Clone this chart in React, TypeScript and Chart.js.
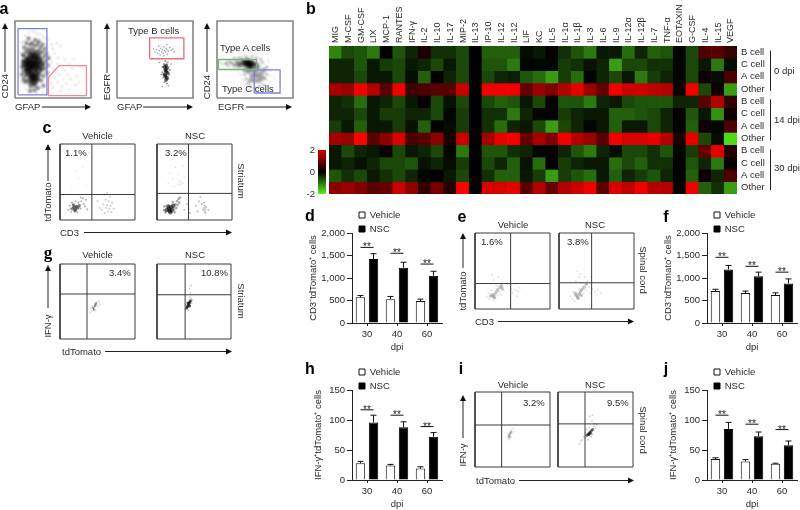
import React, { useEffect, useRef } from "react";
import { Chart, registerables } from "chart.js";

Chart.register(...registerables);
Chart.defaults.font.family = "'Liberation Sans', Arial, sans-serif";
Chart.defaults.color = "#2a2a2a";

// ---------- heat map ----------
const cytokines = ["MIG","M-CSF","GM-CSF","LIX","MCP-1","RANTES","IFN-γ","IL-2","IL-10","IL-17","MIP-2","IL-13","IP-10","IL-12","IL-12","LIF","KC","IL-5","IL-1α","IL-1β","IL-3","IL-6","IL-9","IL-12α","IL-12β","IL-7","TNF-α","EOTAXIN","G-CSF","IL-4","IL-15","VEGF"];
const rowLabels = ["B cell","C cell","A cell","Other","B cell","C cell","A cell","Other","B cell","C cell","A cell","Other"];
const row0B = [-1.1,-.6,-.7,-1,0,-.7,-.3,.2,-.4,-.4,-.6,0,-.8,-.8,-.8,-.1,-.2,.05,-.4,-.7,-1,-.2,-.2,-.9,-.3,-.8,-.7,-.05,-.6,.6,.7,.4];
const row0C = [-.3,-.3,-.7,-.2,-.5,-.6,-.2,-.3,-.6,-.2,-.6,0,-.7,-.7,-1,-.05,-.05,-.05,-.5,-.4,-.15,-.3,-1.3,-.6,-.6,-.4,-.4,-.05,-.6,-.2,-1,-.1];
const row0A = [-.3,-.3,-.6,-.2,-.2,-.6,-.1,-.8,0,-.3,-.6,0,-.6,-.3,-.25,-.7,-.9,-1.3,-.5,-.9,-.05,-.3,-.6,-.2,-1,-.5,-.3,-.05,-.6,.1,-.1,.6];
const row0O = [1.3,1.2,1.9,1.4,.7,1.9,.5,.6,.7,.7,1.6,0,1.9,1.9,1.9,.8,1.2,1,1.4,1.8,1.2,.8,1.9,1.6,1.6,1.5,1.4,.1,1.9,-.6,.1,-1.3];
const row14B = [-.3,-.4,-.9,-.2,-.3,-.6,-.2,.05,-.6,-.15,-.6,0,-.6,-.8,-.7,-.2,-.6,.05,-.7,-.7,-1,-.3,-.2,-.6,-.7,-.7,-.7,-.3,-.3,.7,1.4,.4];
const row14C = [-.3,-.3,-.6,-.2,-.5,-.5,-.3,-.3,-.6,-.05,-.5,0,-.4,-.4,-1,-.3,-.05,0,-.5,-.3,-.2,-.2,-.8,-.8,-.7,-.6,-.3,.05,-.7,-.2,-1.2,.1];
const row14A = [-.5,-.2,-.8,-.2,-.2,-.5,-.15,-.8,0,-.1,-.5,0,-.4,-.9,-.3,-.2,-.6,-1.3,-.6,-.3,-.05,-.2,-.8,-.2,-.2,-.6,-.3,0,-.8,.1,-.05,.6];
const row14O = [1.3,1.2,2,.7,1.1,1.7,.6,.7,1.1,.2,1.6,0,1.3,1.8,1.9,.8,1.3,1,1.9,1.4,1.2,.7,1.9,1.7,1.7,1.8,1.4,.2,1.8,-.6,-.1,-1.8];
const row30B = [-.2,-.6,-.3,-.2,.1,-.6,-.2,-.3,-.6,-.05,-1,0,-.7,-.7,-.4,-.3,-.05,.05,-.3,-.7,-1,-.3,-.1,-.6,-.6,-.4,-.7,-.05,-.5,.8,1.8,.3];
const row30C = [-.2,-.3,-.15,-.3,-.6,-.6,-.7,-.15,-.3,-.1,-.5,0,-.6,-.3,-.8,-.15,-.9,0,-.5,-.3,-.2,-.2,-.9,-.6,-.8,-.4,-.4,0,-.7,-.3,-1,.05];
const row30A = [-.7,-.4,-.6,-.2,-.4,-.6,-.3,-.05,0,-.2,-.6,0,-.4,-.8,-.8,-.2,-.5,-1.3,-.5,-.7,-.9,-.2,-.8,-.3,-.5,-.7,-.3,0,-.8,.1,-.3,.6];
const row30O = [1.1,1.2,1,.7,.8,1.6,1.1,.4,.9,.3,2,0,1.7,1.7,1.8,.7,1.4,.8,1.4,1.6,1.9,.7,1.7,1.5,1.9,1.4,1.4,.05,1.9,-.8,-.4,-1.3];
const heatRows = [row0B,row0C,row0A,row0O,row14B,row14C,row14A,row14O,row30B,row30C,row30A,row30O];
const scaleTicks = [-2, 0, 2];

// ---------- bar panels ----------
const dpi = ["30","40","60"];
const dVehicle = [570,530,490], dVehicleTop = [610,590,530], dNsc = [1420,1230,1050], dNscTop = [1540,1350,1150], dSig = [1680,1550,1310];
const fVehicle = [710,665,620], fVehicleTop = [750,710,670], fNsc = [1190,1040,880], fNscTop = [1280,1130,980], fSig = [1460,1260,1130];
const hVehicle = [28,24,19], hVehicleTop = [31,26,22], hNsc = [96,88,72], hNscTop = [108,97,79], hSig = [117,108,89];
const jVehicle = [35,31,27], jVehicleTop = [37,34,28], jNsc = [85,73,58], jNscTop = [96,80,65], jSig = [108,93,84];

// ---------- flow cytometry dots, read by eye, in percent of each frame ----------
const a1Dense = [[12,44],[15,40],[18,46],[20,42],[23,45],[26,40],[14,48],[17,37],[22,38],[25,48],[28,44],[19,50],[16,33],[20,30],[23,27],[26,31],[21,24],[24,21],[27,26],[30,36],[33,42],[24,55],[20,56],[28,54],[31,50]];
const a1Mid = [[8,40],[9,48],[10,35],[11,55],[13,28],[13,60],[15,22],[15,52],[16,64],[18,18],[18,60],[19,70],[20,14],[21,64],[22,72],[23,17],[24,62],[25,68],[26,15],[26,76],[27,60],[28,20],[29,70],[30,24],[30,62],[31,74],[32,30],[32,58],[33,66],[34,22],[34,48],[35,36],[35,60],[36,70],[37,44],[37,28],[38,54],[39,38],[39,64],[40,48],[41,58],[42,32],[43,42],[44,52],[12,20],[10,24],[9,56],[11,66],[14,72],[17,78],[8,30],[30,12],[25,9],[19,8],[37,15]];
const a1Sparse = [[6,60],[7,20],[7,72],[12,82],[18,86],[28,84],[36,80],[44,76],[48,70],[50,64],[52,58],[55,72],[57,52],[60,68],[48,46],[50,38],[46,26],[48,18],[50,12],[52,26],[54,34],[56,20],[58,30],[60,42],[62,14],[64,24],[66,36],[68,18],[70,30],[72,10],[74,24],[76,38],[80,16],[82,28],[86,20],[60,8],[44,8],[36,6],[28,5],[14,10],[66,50],[72,44],[56,44],[42,68],[40,78],[33,84],[24,88],[10,74],[78,50],[88,40]];
const a2Dense = [[63,30],[65,34],[66,38],[64,28],[66,26],[64,36],[63,40],[65,42],[67,32],[65,23]];
const a2Mid = [[60,33],[61,26],[62,44],[60,40],[68,40],[69,30],[68,24],[70,36],[63,20],[66,18],[64,48],[67,46],[59,30]];
const a2Sparse = [[50,60],[52,63],[54,58],[56,62],[58,65],[59,60],[60,63],[62,67],[61,58],[63,62],[64,60],[65,65],[66,63],[68,61],[70,66],[72,62],[74,64],[76,60],[57,56],[62,55],[67,57],[66,70],[55,68],[48,64],[60,14],[68,15],[72,44],[56,46]];
const a3Dense = [[36,46],[38,43],[40,45],[42,44],[44,46],[46,43],[40,48],[43,41]];
const a3Wide = [[28,46],[32,44],[34,48],[48,46],[50,42],[52,44],[26,43],[30,42],[44,38],[48,36],[52,36],[54,40],[50,30],[54,28],[58,32],[46,28],[50,22],[56,22],[60,26],[42,34],[38,36],[44,22],[62,36]];
const a3Mid = [[10,44],[14,42],[18,46],[20,44],[22,42],[24,48],[16,47],[12,46],[36,30],[38,24],[40,18],[34,36],[44,14],[50,12],[56,14],[62,16],[64,24],[66,30],[66,40],[60,46],[58,50],[32,52],[38,54],[46,54],[52,52],[28,52],[22,52]];
const a3Sparse = [[6,44],[4,46],[30,30],[26,36],[34,22],[42,8],[52,8],[60,8],[70,20],[70,36],[72,28],[68,48],[30,60],[44,60],[50,58],[40,62],[76,24],[20,38]];
const c1Dense = [[16,14],[18,16],[20,13],[21,17],[19,11],[23,15],[17,19],[25,18]];
const c1Mid = [[10,12],[12,18],[14,10],[15,22],[22,9],[24,22],[27,14],[28,24],[30,28],[27,29],[31,20],[33,17],[13,14],[36,13],[34,26],[20,24]];
const c1Right = [[50,24],[53,15],[56,12],[58,20],[60,8],[61,26],[62,15],[63,19],[64,10],[65,24],[66,14],[67,30],[68,18],[69,9],[70,22],[72,14],[59,33],[63,35]];
const c1Sparse = [[15,40],[25,55],[30,70],[20,65],[35,45],[12,80],[38,90],[42,35]];
const c2Dense = [[12,12],[15,14],[16,11],[18,16],[14,17],[19,12],[21,18],[17,9]];
const c2Mid = [[8,12],[9,17],[10,9],[22,13],[24,20],[26,24],[28,27],[25,15],[29,22],[23,9],[30,29],[27,19],[20,23]];
const c2Right = [[62,12],[63,15],[64,10],[64,18],[65,13],[63,22],[65,8],[66,16],[56,24],[52,18],[54,10],[58,30],[60,20],[42,14],[44,8],[40,20],[36,12],[69,12]];
const c2Upper = [[30,49],[31,46],[29,52],[32,50],[27,47],[34,48],[28,60],[24,70],[18,80],[16,62],[26,84],[34,72],[20,54],[36,56],[22,44],[14,48]];
const g1Dense = [[44,41],[46,43],[47,45],[45,39],[48,47]];
const g1Mid = [[42,37],[43,44],[49,49],[50,44],[47,38],[41,41],[52,50],[46,48],[40,35],[53,46]];
const g2Dense = [[41,43],[42,45],[43,47],[44,49],[45,51],[42,48],[44,44],[40,41]];
const g2Mid = [[38,40],[46,54],[47,48],[40,48],[44,56],[45,62],[44,68],[46,72],[42,38],[39,46],[48,52]];
const e1Dense = [[22,18],[24,16],[26,19],[25,14],[28,22],[20,16],[30,25],[33,28],[35,30],[36,26]];
const e1Mid = [[15,15],[17,20],[18,12],[21,24],[24,10],[27,13],[30,17],[32,22],[38,24],[28,30],[36,33],[34,18],[50,20],[54,24],[58,22],[56,16],[60,27],[48,26],[24,38],[22,45],[30,42]];
const e2Dense = [[22,17],[24,15],[26,19],[25,13],[28,22],[21,20],[30,25],[33,28],[36,32],[29,17]];
const e2Mid = [[14,16],[17,12],[18,22],[20,9],[26,26],[32,20],[35,24],[38,36],[40,28],[30,34],[42,20],[44,26],[48,22],[52,24],[50,18],[56,20],[26,42],[24,50],[28,46],[34,42],[22,36]];
const i1Dense = [[45,41],[46,43],[47,45],[48,47],[46,39]];
const i1Mid = [[43,38],[44,44],[49,50],[50,46],[51,52],[48,40],[45,36],[52,48]];
const i2Dense = [[38,42],[40,44],[42,46],[44,48],[41,43],[43,45],[46,50]];
const i2Mid = [[32,36],[34,40],[36,38],[36,46],[38,50],[48,54],[50,52],[46,44],[42,52],[44,40],[48,58],[30,34],[52,56],[45,62],[42,68],[28,30],[40,36],[46,70]];

// gates in percent of the frame
const gateA1Blue = [[4,4],[42,4],[42,90],[4,90],[4,4]];
const gateA1Red = [[44,3],[94,3],[94,42],[58,42],[44,27],[44,3]];
const gateA2Red = [[43,51],[88,51],[88,78],[43,78],[43,51]];
const gateA3Green = [[2,37],[52,37],[52,50],[2,50],[2,37]];
const gateA3Blue = [[49,6.5],[83,6.5],[83,36.5],[49,36.5],[49,6.5]];

// ---------- helpers ----------
const heatColor = (v: number) => {
  const t = Math.min(1, Math.abs(v) / 2);
  return v >= 0
    ? `rgb(${Math.round(255 * t)},0,0)`
    : `rgb(${Math.round(90 * t)},${Math.round(240 * t)},${Math.round(30 * t)})`;
};
const toXY = (p: number[][]) => p.map(([x, y]) => ({ x, y }));

type Layer = { pts: number[][]; r: number; a: number };
type Gate = { pts: number[][]; color: string };
type Flow = { l: number; t: number; w: number; h: number; layers: Layer[]; q?: number[]; gates?: Gate[]; frame: string; lw: number; blur: number };

const ink = "#3a3a3a", gray = "#858585";
const flows: Flow[] = [
  { l:15,t:21,w:76,h:77,frame:gray,lw:1.6,blur:.8,gates:[{pts:gateA1Blue,color:"#7f7fe0"},{pts:gateA1Red,color:"#ee8a90"}],
    layers:[{pts:a1Dense,r:3.6,a:.65},{pts:a1Mid,r:2,a:.5},{pts:a1Sparse,r:.8,a:.4}] },
  { l:117,t:21,w:76,h:77,frame:gray,lw:1.6,blur:.7,gates:[{pts:gateA2Red,color:"#ee6a74"}],
    layers:[{pts:a2Dense,r:1.9,a:.65},{pts:a2Mid,r:1.1,a:.4},{pts:a2Sparse,r:.8,a:.4}] },
  { l:217,t:21,w:76,h:77,frame:gray,lw:1.6,blur:.8,gates:[{pts:gateA3Green,color:"#7fae7f"},{pts:gateA3Blue,color:"#7f7fe0"}],
    layers:[{pts:a3Dense,r:2.8,a:.7},{pts:a3Wide,r:2.6,a:.33},{pts:a3Mid,r:1.3,a:.4},{pts:a3Sparse,r:.8,a:.35}] },
  { l:60,t:144,w:75,h:76,frame:ink,lw:1,blur:.55,q:[42.5,33.5],layers:[{pts:c1Dense,r:1.7,a:.5},{pts:c1Mid,r:1.1,a:.28},{pts:c1Right,r:1,a:.2},{pts:c1Sparse,r:.6,a:.14}] },
  { l:157,t:144,w:75,h:76,frame:ink,lw:1,blur:.55,q:[42,35],layers:[{pts:c2Dense,r:2.2,a:.6},{pts:c2Mid,r:1.3,a:.33},{pts:c2Right,r:1,a:.25},{pts:c2Upper,r:.7,a:.16}] },
  { l:60,t:264,w:75,h:75,frame:ink,lw:1,blur:.55,q:[36,60],layers:[{pts:g1Dense,r:1.1,a:.45},{pts:g1Mid,r:1,a:.15}] },
  { l:157,t:264,w:74,h:75,frame:ink,lw:1,blur:.55,q:[38,59],layers:[{pts:g2Dense,r:1.5,a:.65},{pts:g2Mid,r:.9,a:.2}] },
  { l:475,t:233,w:75,h:76,frame:ink,lw:1,blur:.55,q:[47.5,33.5],layers:[{pts:e1Dense,r:1.7,a:.22},{pts:e1Mid,r:1,a:.12}] },
  { l:559,t:233,w:75,h:76,frame:ink,lw:1,blur:.55,q:[43.5,34.5],layers:[{pts:e2Dense,r:1.7,a:.24},{pts:e2Mid,r:1,a:.12}] },
  { l:475,t:392,w:75,h:75,frame:ink,lw:1,blur:.55,q:[35.5,56],layers:[{pts:i1Dense,r:1.2,a:.28},{pts:i1Mid,r:.9,a:.12}] },
  { l:558,t:392,w:75,h:75,frame:ink,lw:1,blur:.55,q:[36,57.5],layers:[{pts:i2Dense,r:1.5,a:.6},{pts:i2Mid,r:1,a:.18}] },
];

type Panel = { l: number; t: number; title: string; veh: number[]; vehTop: number[]; nsc: number[]; nscTop: number[]; sig: number[]; max: number; step: number; pad: number };
const panels: Panel[] = [
  { l:308,t:205,title:"CD3⁻tdTomato⁺ cells",veh:dVehicle,vehTop:dVehicleTop,nsc:dNsc,nscTop:dNscTop,sig:dSig,max:2000,step:500,pad:0 },
  { l:663,t:205,title:"CD3⁻tdTomato⁺ cells",veh:fVehicle,vehTop:fVehicleTop,nsc:fNsc,nscTop:fNscTop,sig:fSig,max:2000,step:500,pad:0 },
  { l:308,t:362,title:"IFN-γ⁺tdTomato⁺ cells",veh:hVehicle,vehTop:hVehicleTop,nsc:hNsc,nscTop:hNscTop,sig:hSig,max:150,step:50,pad:5 },
  { l:663,t:362,title:"IFN-γ⁺tdTomato⁺ cells",veh:jVehicle,vehTop:jVehicleTop,nsc:jNsc,nscTop:jNscTop,sig:jSig,max:150,step:50,pad:5 },
];

// ---------- chart configs ----------
const flowOptions = (): any => ({
  animation: false, responsive: false, devicePixelRatio: 1,
  layout: { padding: 3 },
  plugins: { legend: { display: false }, tooltip: { enabled: false } },
  scales: {
    x: { type: "linear", min: 0, max: 100, display: false },
    y: { type: "linear", min: 0, max: 100, display: false },
  },
});

const flowDotsConfig = (f: Flow): any => ({
  type: "scatter",
  data: {
    datasets: f.layers.map(L => ({
      data: toXY(L.pts), pointRadius: L.r, pointBorderWidth: 0,
      pointBackgroundColor: `rgba(0,0,0,${L.a})`, showLine: false,
    })),
  },
  options: flowOptions(),
});

const flowLinesConfig = (f: Flow): any => {
  const line = (pts: number[][], color: string, w: number) => ({
    data: toXY(pts), showLine: true, borderColor: color, borderWidth: w,
    pointRadius: 0, tension: 0, clip: false, fill: false,
  });
  const lines: any[] = [line([[0,0],[100,0],[100,100],[0,100],[0,0]], f.frame, f.lw)];
  if (f.q) {
    lines.push(line([[f.q[0],0],[f.q[0],100]], ink, 1));
    lines.push(line([[0,f.q[1]],[100,f.q[1]]], ink, 1));
  }
  (f.gates || []).forEach(g => lines.push(line(g.pts, g.color, 1.3)));
  return { type: "scatter", data: { datasets: lines }, options: flowOptions() };
};

const barConfig = (p: Panel): any => {
  const annotate = {
    id: "annotate",
    beforeDraw(chart: any) {
      const L = chart.legend;
      const w = L.right - L.left, h = L.bottom - L.top;
      L.left = 46.5; L.top = 0.75; L.right = L.left + w; L.bottom = L.top + h + 4;
    },
    afterDatasetsDraw(chart: any) {
      const { ctx, scales: { x, y } } = chart;
      ctx.save();
      ctx.strokeStyle = "#111"; ctx.lineWidth = 1;
      chart.data.datasets.forEach((ds: any, i: number) => {
        const meta = chart.getDatasetMeta(i);
        meta.data.forEach((bar: any, k: number) => {
          const top = y.getPixelForValue(ds.errTop[k]), base = y.getPixelForValue(ds.data[k]);
          ctx.beginPath();
          ctx.moveTo(bar.x, base); ctx.lineTo(bar.x, top);
          ctx.moveTo(bar.x - 3, top); ctx.lineTo(bar.x + 3, top);
          ctx.stroke();
        });
      });
      ctx.fillStyle = "#222";
      ctx.font = "10px 'Liberation Sans'";
      ctx.textAlign = "center"; ctx.textBaseline = "alphabetic";
      p.sig.forEach((v, k) => {
        const cx = x.getPixelForValue(k), py = y.getPixelForValue(v);
        ctx.beginPath(); ctx.moveTo(cx - 6.5, py); ctx.lineTo(cx + 6.5, py); ctx.stroke();
        ctx.fillText("**", cx, py + 3);
      });
      ctx.restore();
    },
  };
  return {
    type: "bar",
    plugins: [annotate],
    data: {
      labels: dpi,
      datasets: [
        { label: "Vehicle", data: p.veh, errTop: p.vehTop, backgroundColor: "#fff", borderColor: "#111", borderWidth: 1 },
        { label: "NSC", data: p.nsc, errTop: p.nscTop, backgroundColor: "#000", borderColor: "#000", borderWidth: 1 },
      ],
    },
    options: {
      animation: false, responsive: false, devicePixelRatio: 1,
      layout: { padding: { top: 28, right: 3, bottom: 0, left: p.pad } },
      datasets: { bar: { barPercentage: 0.72, categoryPercentage: 0.87 } },
      plugins: {
        tooltip: { enabled: false },
        legend: {
          position: "chartArea", align: "start",
          labels: { boxWidth: 6, boxHeight: 6, padding: 4.5, color: "#2a2a2a", font: { size: 9.5 } },
        },
      },
      scales: {
        x: {
          afterFit: (s: any) => { s.height = 37; },
          grid: { offset: false, drawOnChartArea: false, tickLength: 3, color: "#222" },
          border: { color: "#222" },
          ticks: { padding: 3, font: { size: 9.5 }, color: "#2a2a2a" },
          title: { display: true, text: "dpi", font: { size: 9.5 }, color: "#2a2a2a", padding: { top: 0, bottom: 7 } },
        },
        y: {
          min: 0, max: p.max,
          afterFit: (s: any) => { s.width = 44 - p.pad; },
          grid: { drawOnChartArea: false, tickLength: 5, color: "#222" },
          border: { color: "#222" },
          ticks: { stepSize: p.step, padding: 2, font: { size: 9.5 }, color: "#2a2a2a",
            callback: (v: any) => Number(v).toLocaleString("en-US") },
          title: { display: true, text: p.title, font: { size: 9.5 }, color: "#2a2a2a", padding: { top: 0, bottom: 0 } },
        },
      },
    },
  };
};

const heatConfig = (): any => ({
  type: "bar",
  plugins: [{
    id: "dayBrackets",
    afterDraw(chart: any) {
      const { ctx, scales: { y } } = chart;
      ctx.save(); ctx.strokeStyle = "#222"; ctx.lineWidth = 1;
      [[0.38,3.64],[4.32,7.66],[8.39,11.68]].forEach(([a,b]) => {
        ctx.beginPath(); ctx.moveTo(470.5, y.getPixelForValue(a)); ctx.lineTo(470.5, y.getPixelForValue(b)); ctx.stroke();
      });
      ctx.restore();
    },
  }],
  data: {
    labels: cytokines,
    datasets: heatRows.map((r, i) => ({
      label: `${rowLabels[i]} ${i}`,
      data: r.map(() => [i, i + 1]),
      heat: r,
      backgroundColor: r.map(heatColor),
      borderWidth: 0,
      grouped: false, barPercentage: 1, categoryPercentage: 1,
    })),
  },
  options: {
    animation: false, responsive: false, devicePixelRatio: 1,
    layout: { padding: { left: 29, top: 0, right: 0, bottom: 2 } },
    plugins: { legend: { display: false }, tooltip: { enabled: false } },
    scales: {
      x: {
        position: "top",
        afterFit: (s: any) => { s.height = 46; s.paddingLeft = 0; s.paddingRight = 0; },
        grid: { display: false, drawTicks: false, tickLength: 0 }, border: { display: false },
        ticks: { autoSkip: false, minRotation: 90, maxRotation: 90, padding: 3, labelOffset: 11, font: { size: 9 }, color: "#2a2a2a" },
      },
      y: {
        position: "right", min: 0, max: 12, reverse: true,
        afterFit: (s: any) => { s.width = 63; s.paddingTop = 0; s.paddingBottom = 0; },
        afterBuildTicks: (s: any) => { s.ticks = rowLabels.map((_, i) => ({ value: i + 0.5 })); },
        grid: { display: false, drawTicks: false, tickLength: 0 }, border: { display: false },
        ticks: { autoSkip: false, padding: 4, font: { size: 9.5 }, color: "#2a2a2a",
          callback: (v: any) => rowLabels[Math.floor(v)] },
      },
    },
  },
});

const scaleConfig = (): any => ({
  type: "bar",
  data: {
    labels: ["z"],
    datasets: [{
      data: [[-2, 2]], barPercentage: 1, categoryPercentage: 1, borderWidth: 0,
      backgroundColor: (c: any) => {
        const { chartArea, ctx } = c.chart;
        if (!chartArea) return "#000";
        const g = ctx.createLinearGradient(0, chartArea.top, 0, chartArea.bottom);
        [2, 1, 0, -1, -2].forEach(v => g.addColorStop((2 - v) / 4, heatColor(v * (v > 0 ? 0.85 : 1))));
        return g;
      },
    }],
  },
  options: {
    animation: false, responsive: false, devicePixelRatio: 1,
    layout: { padding: { top: 6, bottom: 6, left: 0, right: 1 } },
    plugins: { legend: { display: false }, tooltip: { enabled: false } },
    scales: {
      x: { display: false },
      y: {
        min: -2, max: 2,
        afterFit: (s: any) => { s.width = 18; s.paddingTop = 0; s.paddingBottom = 0; },
        afterBuildTicks: (s: any) => { s.ticks = scaleTicks.map(value => ({ value })); },
        grid: { display: false, drawTicks: false, tickLength: 0 }, border: { display: false },
        ticks: { padding: 3, font: { size: 9.5 }, color: "#2a2a2a" },
      },
    },
  },
});

// ---------- annotations ----------
type Note = { t: string; x: number; y: number; rot?: number; left?: boolean; bold?: boolean; size?: number; serif?: boolean };
const notes: Note[] = [
  { t:"a",x:4,y:9,bold:true,size:16 },{ t:"b",x:311,y:9,bold:true,size:16 },{ t:"c",x:47,y:128,bold:true,size:16 },
  { t:"g",x:48,y:252,bold:true,size:17,serif:true },{ t:"d",x:310,y:216,bold:true,size:16 },{ t:"e",x:462,y:217,bold:true,size:16 },
  { t:"f",x:666,y:217,bold:true,size:16 },{ t:"h",x:310,y:369,bold:true,size:16 },{ t:"i",x:461,y:369,bold:true,size:16 },{ t:"j",x:666,y:369,bold:true,size:16 },
  { t:"CD24",x:5,y:86,rot:-90 },{ t:"GFAP",x:15,y:107,left:true },
  { t:"EGFR",x:107,y:87,rot:-90 },{ t:"GFAP",x:117,y:107,left:true },
  { t:"CD24",x:207,y:87,rot:-90 },{ t:"EGFR",x:218,y:107,left:true },
  { t:"Type B cells",x:128,y:31,left:true },{ t:"Type A cells",x:220,y:47.5,left:true },{ t:"Type C cells",x:222,y:88.5,left:true },
  { t:"Vehicle",x:97.5,y:136 },{ t:"NSC",x:195,y:136 },{ t:"1.1%",x:65,y:153,left:true },{ t:"3.2%",x:165,y:153,left:true },
  { t:"Striatum",x:241,y:181,rot:90 },{ t:"tdTomato",x:48,y:202,rot:-90 },{ t:"CD3",x:60,y:232.5,left:true },
  { t:"Vehicle",x:97.5,y:255 },{ t:"NSC",x:195,y:255 },{ t:"3.4%",x:109,y:273,left:true },{ t:"10.8%",x:201,y:273,left:true },
  { t:"Striatum",x:241,y:301,rot:90 },{ t:"IFN-γ",x:48,y:326,rot:-90 },{ t:"tdTomato",x:62,y:351.5,left:true },
  { t:"Vehicle",x:513,y:225 },{ t:"NSC",x:595,y:225 },{ t:"1.6%",x:481,y:241.5,left:true },{ t:"3.8%",x:567,y:241.5,left:true },
  { t:"Spinal cord",x:643,y:270,rot:90 },{ t:"tdTomato",x:463,y:291,rot:-90 },{ t:"CD3",x:475,y:321.5,left:true },
  { t:"Vehicle",x:513,y:385 },{ t:"NSC",x:595,y:385 },{ t:"3.2%",x:523,y:402.5,left:true },{ t:"9.5%",x:607,y:402.5,left:true },
  { t:"Spinal cord",x:643,y:430,rot:90 },{ t:"IFN-γ",x:463,y:455,rot:-90 },{ t:"tdTomato",x:476,y:480.5,left:true },
  { t:"0 dpi",x:774,y:71,left:true },{ t:"14 dpi",x:774,y:120,left:true },{ t:"30 dpi",x:774,y:168,left:true },
];
const arrows = [
  [5,72,5,23],[42,107,91,107],[107,73,107,23],[143,107,193,107],[207,72,207,23],[246,107,292,107],
  [48,181,48,144],[84,232.5,232,232.5],[48,308,48,265],[105,351.5,232,351.5],
  [463,268,463,233],[498,321.5,634,321.5],[463,438,463,395],[519,480.5,634,480.5],
];

function ChartCanvas({ l, t, w, h, config, blur }: { l: number; t: number; w: number; h: number; config: () => any; blur?: number }) {
  const ref = useRef<HTMLCanvasElement>(null);
  useEffect(() => {
    const chart = new Chart(ref.current as HTMLCanvasElement, config());
    return () => chart.destroy();
  }, []);
  return <canvas ref={ref} width={w} height={h} style={{ position: "absolute", left: l, top: t, width: w, height: h, display: "block", filter: blur ? `blur(${blur}px)` : undefined }} />;
}

export default function App() {
  return (
    <div style={{ position: "absolute", left: 0, top: 0, width: 800, height: 510, overflow: "hidden", background: "#fff", fontFamily: "'Liberation Sans', Arial, sans-serif", color: "#2a2a2a" }}>
      <ChartCanvas l={300} t={0} w={500} h={196} config={heatConfig} />
      <ChartCanvas l={300} t={144} w={27} h={56} config={scaleConfig} />
      {flows.map((f, i) => (
        <React.Fragment key={i}>
          <ChartCanvas l={f.l - 3} t={f.t - 3} w={f.w + 6} h={f.h + 6} config={() => flowDotsConfig(f)} blur={f.blur} />
          <ChartCanvas l={f.l - 3} t={f.t - 3} w={f.w + 6} h={f.h + 6} config={() => flowLinesConfig(f)} />
        </React.Fragment>
      ))}
      {panels.map((p, i) => (
        <ChartCanvas key={i} l={p.l} t={p.t} w={137} h={155} config={() => barConfig(p)} />
      ))}
      <svg width={800} height={510} style={{ position: "absolute", left: 0, top: 0, pointerEvents: "none" }}>
        {arrows.map(([x1, y1, x2, y2], i) => {
          const ux = Math.sign(x2 - x1), uy = Math.sign(y2 - y1);
          const bx = x2 - ux * 6, by = y2 - uy * 6;
          return (
            <g key={i}>
              <line x1={x1} y1={y1} x2={bx} y2={by} stroke="#222" strokeWidth={1} />
              <polygon points={`${x2},${y2} ${bx + uy * 3},${by + ux * 3} ${bx - uy * 3},${by - ux * 3}`} fill="#111" />
            </g>
          );
        })}
      </svg>
      {notes.map((n, i) => (
        <span key={i} style={{
          position: "absolute", left: n.x, top: n.y, whiteSpace: "nowrap", lineHeight: 1,
          fontSize: n.size || 9.5, fontWeight: n.bold ? 700 : 400, color: n.bold ? "#000" : "#2a2a2a",
          fontFamily: n.serif ? "'Liberation Serif', serif" : undefined,
          transform: `translate(${n.left ? "0" : "-50%"},-50%) rotate(${n.rot || 0}deg)`,
          transformOrigin: n.left ? "0 50%" : "50% 50%",
        }}>{n.t}</span>
      ))}
    </div>
  );
}
